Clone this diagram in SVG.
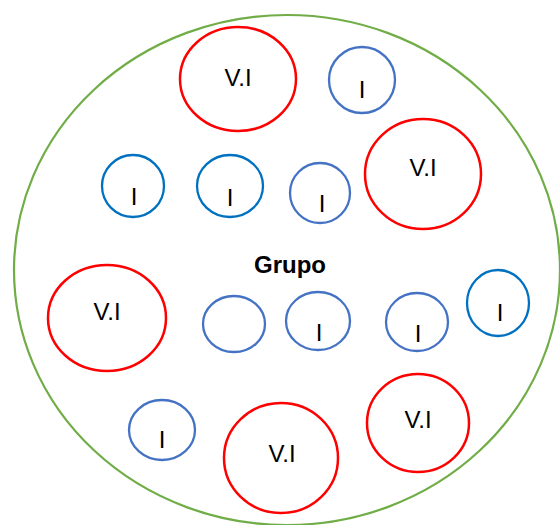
<svg xmlns="http://www.w3.org/2000/svg" width="560" height="525" viewBox="0 0 560 525">
<style>
.g{fill:none;stroke:#70AD47;stroke-width:2.2}
.r{fill:none;stroke:#FF0000;stroke-width:2.5}
.b{fill:none;stroke:#4472C4;stroke-width:2.3}
.d{fill:none;stroke:#0070C0;stroke-width:2.3}
text{font-family:"Liberation Sans",Arial,sans-serif;font-size:24px;fill:#000;text-anchor:middle}
.t{font-weight:bold;font-size:24px}
</style>
<rect width="560" height="525" fill="#fff"/>
<g id="grupo">
<ellipse class="g" cx="287" cy="270" rx="273" ry="255"/>
<text class="t" x="290" y="273">Grupo</text>
</g>
<g id="n1"><ellipse class="r" cx="238" cy="79" rx="58" ry="52"/><text x="238" y="86">V.I</text></g>
<g id="n2"><ellipse class="b" cx="362" cy="80" rx="33" ry="33"/><text x="362" y="98">I</text></g>
<g id="n3"><ellipse class="r" cx="423" cy="174" rx="58" ry="55"/><text x="423" y="176">V.I</text></g>
<g id="n4"><ellipse class="d" cx="133" cy="186" rx="31" ry="31"/><text x="134" y="205">I</text></g>
<g id="n5"><ellipse class="d" cx="230" cy="186" rx="33" ry="31"/><text x="230" y="206">I</text></g>
<g id="n6"><ellipse class="b" cx="320" cy="193" rx="30" ry="30"/><text x="322" y="212">I</text></g>
<g id="n7"><ellipse class="r" cx="107" cy="318" rx="59" ry="53"/><text x="107" y="320">V.I</text></g>
<g id="n8"><ellipse class="b" cx="234" cy="324" rx="31" ry="28"/></g>
<g id="n9"><ellipse class="b" cx="318" cy="321" rx="32" ry="29"/><text x="319" y="341">I</text></g>
<g id="n10"><ellipse class="b" cx="417" cy="322" rx="31" ry="29"/><text x="418" y="342">I</text></g>
<g id="n11"><ellipse class="d" cx="498" cy="303" rx="31" ry="33"/><text x="500" y="321">I</text></g>
<g id="n12"><ellipse class="b" cx="162" cy="430" rx="33" ry="30"/><text x="162" y="448">I</text></g>
<g id="n13"><ellipse class="r" cx="281" cy="458" rx="57" ry="55"/><text x="282" y="462">V.I</text></g>
<g id="n14"><ellipse class="r" cx="418" cy="423" rx="51" ry="49"/><text x="418" y="428">V.I</text></g>
<g id="connectors"/>
</svg>
